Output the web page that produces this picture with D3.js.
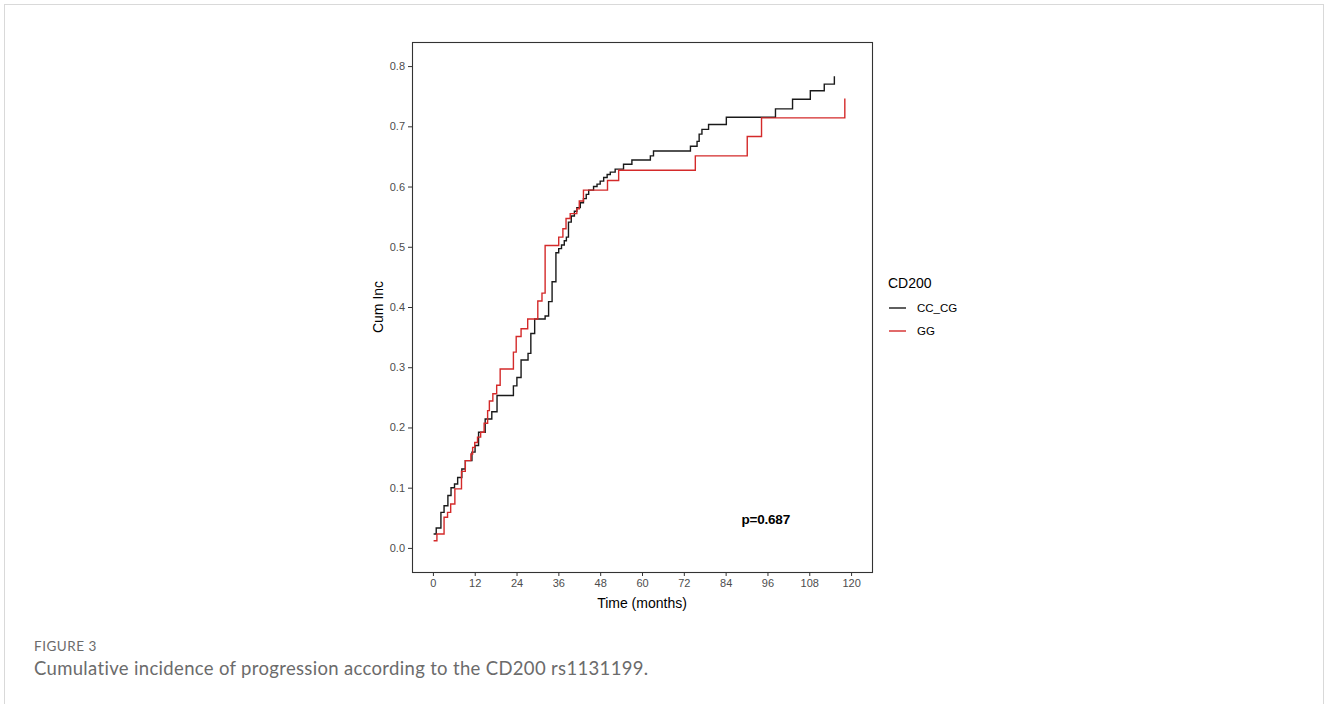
<!DOCTYPE html>
<meta charset="utf-8">
<style>
body { margin: 0; background: #fff; }
.axis text { font-family: "Liberation Sans", Arial, sans-serif; font-size: 11px; fill: #4d4d4d; }
.axis line { stroke: #333; }
.axis path { display: none; }
.line { fill: none; stroke-width: 1.4px; }
.title { font-family: "Liberation Sans", Arial, sans-serif; font-size: 14px; fill: #000; }
.cap { font-family: Lato, "Open Sans", sans-serif; fill: #6b6b6b; }
</style>
<svg width="1328" height="704"></svg>
<script src="https://d3js.org/d3.v7.min.js"></script>
<script>
// CC_CG group (black)
var ccTime = [0.2, 0.95, 2.3, 3.2, 4.3, 5.2, 6.2, 7.1, 8.3, 9.3, 11.2, 12.1, 13.1, 15.0, 16.9, 18.4,
  23.1, 24.1, 25.3, 27.3, 28.1, 29.2, 32.2, 33.2, 34.2, 35.3, 36.1, 36.9, 37.7, 38.3, 38.9,
  39.7, 40.6, 41.3, 42.3, 43.2, 44.0, 44.7, 46.1, 47.1, 48.0, 49.0, 50.0, 50.9, 52.3, 54.7,
  57.1, 62.4, 63.3, 73.9, 75.8, 76.4, 77.2, 79.1, 84.2, 98.3, 103.2, 108.3, 112.3, 115.2];
var ccInc = [0.023, 0.033, 0.059, 0.070, 0.087, 0.100, 0.106, 0.117, 0.131, 0.145, 0.159, 0.170, 0.192, 0.214, 0.226, 0.253,
  0.269, 0.283, 0.312, 0.323, 0.356, 0.380, 0.385, 0.409, 0.442, 0.490, 0.497, 0.503, 0.510, 0.516, 0.541,
  0.551, 0.559, 0.565, 0.573, 0.580, 0.587, 0.594, 0.600, 0.604, 0.609, 0.615, 0.620, 0.624, 0.629, 0.637,
  0.644, 0.651, 0.659, 0.667, 0.675, 0.687, 0.695, 0.703, 0.715, 0.729, 0.745, 0.759, 0.770, 0.783];

// GG group (red)
var ggTime = [0.2, 1.15, 3.2, 4.2, 5.1, 6.3, 8.2, 9.3, 10.9, 11.4, 12.0, 12.8, 13.7, 14.7, 15.7, 16.2,
  17.2, 18.3, 19.3, 23.1, 23.9, 25.3, 27.2, 30.1, 31.3, 32.2, 36.1, 37.3, 38.2, 39.4, 41.3,
  42.0, 43.2, 50.1, 53.3, 75.3, 90.2, 94.3, 118.2];
var ggInc = [0.012, 0.023, 0.051, 0.059, 0.073, 0.098, 0.127, 0.145, 0.156, 0.167, 0.175, 0.184, 0.192, 0.207, 0.228, 0.244,
  0.256, 0.270, 0.297, 0.325, 0.351, 0.364, 0.380, 0.410, 0.423, 0.502, 0.516, 0.530, 0.547, 0.555, 0.563,
  0.576, 0.594, 0.610, 0.627, 0.651, 0.683, 0.714, 0.746];

var groups = ["CC_CG", "GG"];
var colors = ["#1a1a1a", "#d42a2a"];
var xTicks = [0, 12, 24, 36, 48, 60, 72, 84, 96, 108, 120];
var yTicks = [0, 0.1, 0.2, 0.3, 0.4, 0.5, 0.6, 0.7, 0.8];
var pLabel = "p=0.687";

var svg = d3.select("svg"),
    margin = {top: 42, left: 412},
    width = 460,
    height = 530;

// figure frame
svg.append("rect").attr("x", 4.5).attr("y", 4.5).attr("width", 1319).attr("height", 710)
    .attr("fill", "none").attr("stroke", "#d9d9d9");

var g = svg.append("g").attr("transform", "translate(" + margin.left + "," + margin.top + ")");

var x = d3.scaleLinear().domain([-6, 126]).range([0, width]),
    y = d3.scaleLinear().domain([-0.04, 0.84]).range([height, 0]);

g.append("g")
    .attr("class", "axis")
    .attr("transform", "translate(0," + height + ")")
    .call(d3.axisBottom(x).tickValues(xTicks).tickSize(4).tickPadding(3));
g.append("g")
    .attr("class", "axis")
    .call(d3.axisLeft(y).tickValues(yTicks).tickSize(4).tickPadding(3).tickFormat(d3.format(".1f")));

var line = d3.line()
    .curve(d3.curveStepAfter)
    .x(function(d) { return x(d[0]); })
    .y(function(d) { return y(d[1]); });

var series = [d3.zip(ccTime, ccInc), d3.zip(ggTime, ggInc)];
g.selectAll(".line")
    .data(series)
    .enter().append("path")
    .attr("class", "line")
    .attr("d", line)
    .style("stroke", function(d, i) { return colors[i]; });

// panel border
g.append("rect").attr("x", 0.5).attr("y", 0.5).attr("width", width).attr("height", height)
    .attr("fill", "none").attr("stroke", "#333").attr("stroke-width", 1.1);

g.append("text")
    .attr("x", x(95.5)).attr("y", y(0.048)).attr("dy", "0.35em")
    .attr("text-anchor", "middle")
    .style("font", "bold 13.5px 'Liberation Sans', Arial, sans-serif")
    .style("letter-spacing", "-0.2px")
    .text(pLabel);

// axis titles
svg.append("text").attr("class", "title")
    .attr("x", margin.left + width / 2).attr("y", 608)
    .attr("text-anchor", "middle").text("Time (months)");
svg.append("text").attr("class", "title")
    .attr("transform", "translate(383," + (margin.top + height / 2) + ") rotate(-90)")
    .attr("text-anchor", "middle").text("Cum Inc");

// legend
var leg = svg.append("g").attr("transform", "translate(888,0)");
leg.append("text").attr("class", "title").attr("x", 0).attr("y", 288).text("CD200");
groups.forEach(function(name, i) {
  var cy = 308 + i * 23;
  leg.append("line").attr("x1", 1).attr("x2", 18).attr("y1", cy).attr("y2", cy)
      .attr("stroke", colors[i]).attr("stroke-width", 1.4);
  leg.append("text").attr("x", 29).attr("y", cy).attr("dy", "0.35em")
      .style("font", "11.5px 'Liberation Sans', Arial, sans-serif")
      .text(name);
});

// caption
svg.append("text").attr("class", "cap").attr("x", 34).attr("y", 651)
    .style("font-size", "13.5px").style("letter-spacing", "0.5px").text("FIGURE 3");
svg.append("text").attr("class", "cap").attr("x", 34).attr("y", 675)
    .style("font-size", "18.5px").style("letter-spacing", "0.33px")
    .text("Cumulative incidence of progression according to the CD200 rs1131199.");
</script>
